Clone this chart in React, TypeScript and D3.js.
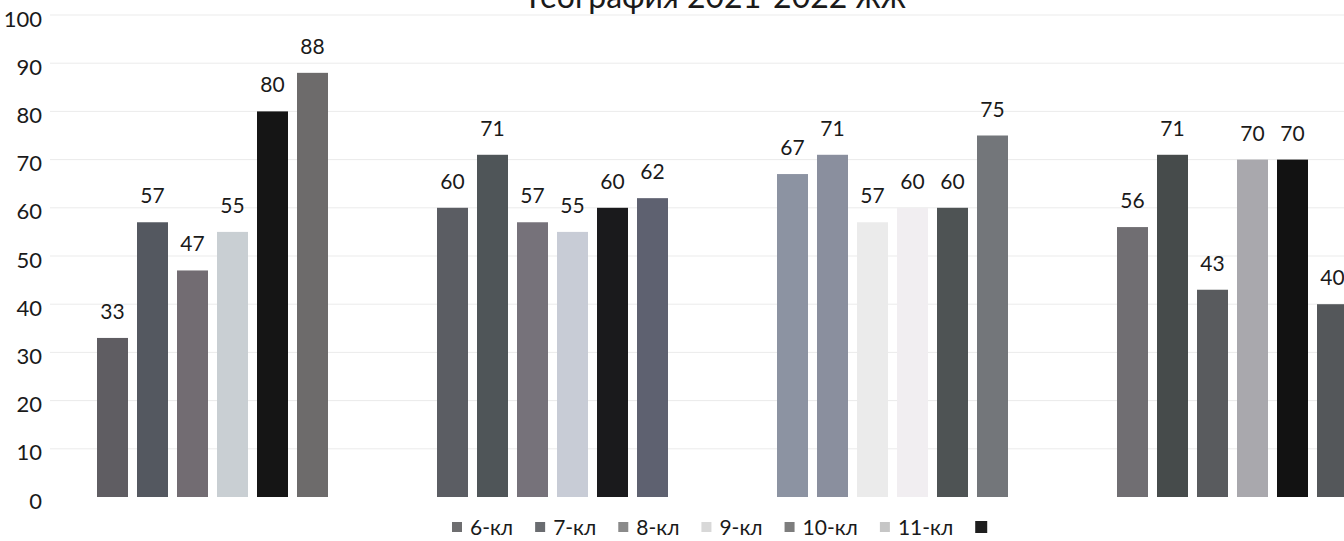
import React, { useEffect, useRef } from "react";
import * as d3 from "d3";

const title = "География 2021-2022 жж";
const groups = ["A", "B", "C", "D"];
const classes = ["6-кл", "7-кл", "8-кл", "9-кл", "10-кл", "11-кл"];
const group1 = [33, 57, 47, 55, 80, 88];
const group2 = [60, 71, 57, 55, 60, 62];
const group3 = [67, 71, 57, 60, 60, 75];
const group4 = [56, 71, 43, 70, 70, 40];
const values = [group1, group2, group3, group4];
const yTicks = [0, 10, 20, 30, 40, 50, 60, 70, 80, 90, 100];

// styles
const barColors = [
  ["#5f5d62", "#545860", "#726c72", "#c9cfd3", "#151515", "#6d6b6b"],
  ["#5b5d63", "#4f5558", "#76727a", "#c8ccd6", "#1a1a1c", "#5e6170"],
  ["#8c93a2", "#8a8f9e", "#ebebeb", "#f1eef1", "#4e5354", "#73767a"],
  ["#706e72", "#464b4b", "#595b5e", "#a9a8ad", "#121212", "#54575a"],
];
const legendColors = ["#6e6e70", "#6a6c70", "#8a8a8a", "#d8d8d8", "#7d7d7d", "#c6c6c6", "#1e1e1e"];
const FONT = "Lato, 'Open Sans', sans-serif";

export default function App() {
  const ref = useRef<SVGSVGElement | null>(null);

  useEffect(() => {
    const svg = d3.select(ref.current);
    svg.selectAll("*").remove();

    const x0 = d3.scaleBand<string>().domain(groups).range([42.5, 1402.5]).padding(0);
    const x1 = d3
      .scaleBand<string>()
      .domain(classes)
      .range([50, 290])
      .paddingInner(0.225)
      .paddingOuter(0.1125);
    const y = d3.scaleLinear().domain([0, 100]).range([497, 15]);

    // gridlines
    svg
      .append("g")
      .selectAll("line")
      .data(yTicks.filter((t) => t > 0))
      .join("line")
      .attr("x1", 50)
      .attr("x2", 1344)
      .attr("y1", (d) => y(d))
      .attr("y2", (d) => y(d))
      .attr("stroke", "#ebebeb")
      .attr("stroke-width", 1);

    // y labels
    svg
      .append("g")
      .selectAll("text")
      .data(yTicks)
      .join("text")
      .attr("x", 42)
      .attr("y", (d) => y(d) + 3)
      .attr("text-anchor", "end")
      .attr("dominant-baseline", "central")
      .attr("font-family", FONT)
      .attr("font-size", 22)
      .attr("fill", "#1a1a1a")
      .text((d) => d);

    // bars
    values.forEach((vals, gi) => {
      const g = svg.append("g").attr("transform", `translate(${x0(groups[gi])},0)`);
      g.selectAll("rect")
        .data(vals)
        .join("rect")
        .attr("x", (_, i) => x1(classes[i])!)
        .attr("width", x1.bandwidth())
        .attr("y", (d) => y(d))
        .attr("height", (d) => y(0) - y(d))
        .attr("fill", (_, i) => barColors[gi][i]);
      g.selectAll("text")
        .data(vals)
        .join("text")
        .attr("x", (_, i) => x1(classes[i])! + x1.bandwidth() / 2)
        .attr("y", (d) => y(d) - 19)
        .attr("text-anchor", "middle")
        .attr("font-family", FONT)
        .attr("font-size", 21)
        .attr("fill", "#1a1a1a")
        .text((d) => d);
    });

    // title (cropped at the top edge, as in the reference)
    const tt = svg
      .append("text")
      .attr("x", 0)
      .attr("y", 8)
      .attr("font-family", FONT)
      .attr("font-size", 32)
      .attr("fill", "#1a1a1a")
      .text(title);
    const prefixLen = title.indexOf("2021");
    const prefixW = (tt.node() as SVGTextElement).getSubStringLength(0, prefixLen);
    tt.attr("x", 687 - prefixW);

    // legend
    const legend = svg.append("g");
    let lx = 452;
    const ly = 535;
    const items = [...classes, ""];
    items.forEach((c, i) => {
      const last = i === items.length - 1;
      legend
        .append("rect")
        .attr("x", lx)
        .attr("y", last ? ly - 14 : ly - 13)
        .attr("width", last ? 12 : 10)
        .attr("height", last ? 12 : 10)
        .attr("fill", legendColors[i]);
      if (c) {
        const t = legend
          .append("text")
          .attr("x", lx + 18)
          .attr("y", ly)
          .attr("font-family", FONT)
          .attr("font-size", 21)
          .attr("fill", "#1a1a1a")
          .text(c);
        const w = (t.node() as SVGTextElement).getComputedTextLength();
        lx = lx + 18 + w + 22;
      }
    });
  }, []);

  return (
    <svg
      ref={ref}
      width={1344}
      height={541}
      style={{ position: "absolute", left: 0, top: 0, background: "#ffffff" }}
    />
  );
}
